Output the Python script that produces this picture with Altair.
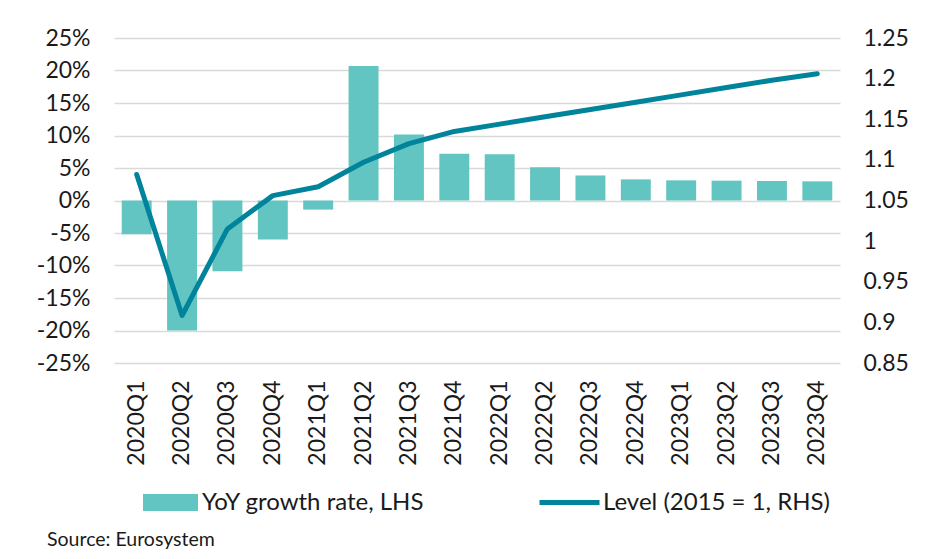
import altair as alt
import pandas as pd

quarters = ["2020Q1", "2020Q2", "2020Q3", "2020Q4",
            "2021Q1", "2021Q2", "2021Q3", "2021Q4",
            "2022Q1", "2022Q2", "2022Q3", "2022Q4",
            "2023Q1", "2023Q2", "2023Q3", "2023Q4"]
growth_pct = [-5.2, -20.0, -10.9, -6.0, -1.4, 20.7, 10.15, 7.2,
              7.1, 5.1, 3.85, 3.25, 3.1, 3.05, 3.0, 2.95]
level = [1.082, 0.9085, 1.015, 1.056, 1.067, 1.097, 1.12, 1.135,
         1.144, 1.153, 1.162, 1.171, 1.18, 1.189, 1.198, 1.206]
bar_name = "YoY growth rate, LHS"
line_name = "Level (2015 = 1, RHS)"
left_ticks = [-25, -20, -15, -10, -5, 0, 5, 10, 15, 20, 25]
right_ticks = [0.85, 0.9, 0.95, 1.0, 1.05, 1.1, 1.15, 1.2, 1.25]

df = pd.DataFrame({
    "quarter": quarters,
    "growth": growth_pct,
    "level": level,
    "bar_series": [bar_name] * len(quarters),
    "line_series": [line_name] * len(quarters),
})

FONT = "Lato"
TXT = "#1a1a1a"
BAR = "#62c5c1"
LINE = "#00849c"

x_enc = alt.X(
    "quarter:N", sort=quarters, title=None,
    scale=alt.Scale(paddingInner=0.34, paddingOuter=0.17),
    axis=alt.Axis(labelAngle=-90, labelFontSize=23, labelFont=FONT,
                  labelColor=TXT, labelPadding=17, ticks=False,
                  domain=False, grid=False),
)

bars = alt.Chart(df).mark_bar(color=BAR).encode(
    x=x_enc,
    y=alt.Y("growth:Q", title=None,
            scale=alt.Scale(domain=[-25, 25], nice=False, zero=False),
            axis=alt.Axis(values=left_ticks, labelExpr="datum.value + '%'",
                          grid=True, gridColor="#d9d9d9", gridWidth=1.5,
                          ticks=False, domain=False, labelPadding=24,
                          labelFontSize=23, labelFont=FONT, labelColor=TXT)),
    fill=alt.Fill("bar_series:N", scale=alt.Scale(range=[BAR]),
                  legend=alt.Legend(title=None, orient="none", legendX=29,
                                    legendY=437, padding=0,
                                    symbolType="M-1,-0.31H1V0.31H-1Z",
                                    symbolSize=3025, symbolStrokeWidth=0,
                                    symbolOpacity=1, labelOffset=4,
                                    labelFont=FONT, labelFontSize=24,
                                    labelColor=TXT, labelLimit=400)),
)

line = alt.Chart(df).mark_line(strokeWidth=5, strokeCap="round",
                               strokeJoin="round").encode(
    x=alt.X("quarter:N", sort=quarters),
    y=alt.Y("level:Q", title=None,
            scale=alt.Scale(domain=[0.85, 1.25], nice=False, zero=False),
            axis=alt.Axis(orient="right", values=right_ticks, format=".2~f",
                          grid=False, ticks=False, domain=False,
                          labelPadding=23, labelFontSize=23, labelFont=FONT,
                          labelColor=TXT)),
    stroke=alt.Stroke("line_series:N", scale=alt.Scale(range=[LINE]),
                      legend=alt.Legend(title=None, orient="none", legendX=423,
                                        legendY=432, padding=0,
                                        symbolType="stroke", symbolSize=3600,
                                        symbolStrokeWidth=5, labelOffset=1,
                                        labelFont=FONT, labelFontSize=24,
                                        labelColor=TXT, labelLimit=400)),
)

chart = alt.layer(bars, line).resolve_scale(
    y="independent", fill="independent", stroke="independent"
).properties(
    width=726, height=325,
    autosize=alt.AutoSizeParams(type="none"),
    padding={"left": 106, "top": 30, "right": 82, "bottom": 188},
    background="white",
    title=alt.TitleParams("Source: Eurosystem", orient="bottom",
                          anchor="start", frame="group", font=FONT,
                          fontSize=19.5, fontWeight="normal", color=TXT,
                          dx=-67, offset=16),
).configure_view(stroke=None)

chart.save("out.html", embed_options={"renderer": "svg", "actions": False})
